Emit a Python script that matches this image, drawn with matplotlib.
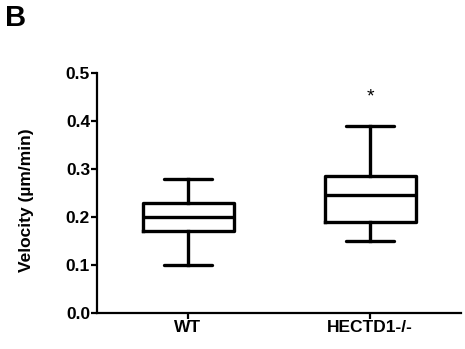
import matplotlib
matplotlib.use("Agg")
import matplotlib.pyplot as plt

plt.rcParams['font.family'] = ['Liberation Sans', 'DejaVu Sans']

categories = ["WT", "HECTD1-/-"]
whislo = [0.10, 0.15]
q1 = [0.17, 0.19]
med = [0.20, 0.245]
q3 = [0.23, 0.285]
whishi = [0.28, 0.39]
yticks = [0.0, 0.1, 0.2, 0.3, 0.4, 0.5]

fig = plt.figure(figsize=(4.65, 3.49), dpi=100)
ax = fig.add_axes([97/465, 1-313/349, 364/465, 240/349])

stats = []
for i, c in enumerate(categories):
    stats.append(dict(label=c, whislo=whislo[i], q1=q1[i], med=med[i], q3=q3[i], whishi=whishi[i], fliers=[]))

lw = 2.4
ax.bxp(stats, positions=[0, 1], widths=0.5, capwidths=0.26, showfliers=False,
       boxprops=dict(color='black', linewidth=lw),
       medianprops=dict(color='black', linewidth=lw),
       whiskerprops=dict(color='black', linewidth=lw),
       capprops=dict(color='black', linewidth=lw, solid_capstyle='round'))

ax.text(1, 0.45, "*", ha='center', va='center', fontsize=14)

ax.set_xlim(-0.5, 1.5)
ax.set_ylim(0, 0.5)
ax.set_yticks(yticks)
ax.set_yticklabels([f"{v:.1f}" for v in yticks], fontweight='bold', fontsize=12.5)
ax.set_xticks([0, 1])
ax.set_xticklabels(categories, fontweight='bold', fontsize=12.5)
for s in ['top', 'right']:
    ax.spines[s].set_visible(False)
for s in ['left', 'bottom']:
    ax.spines[s].set_linewidth(1.6)
ax.tick_params(width=1.6, length=4, pad=1)

fig.text(27/465, 1-200/349, "Velocity (\u00b5m/min)", rotation=90, ha='center', va='center',
         fontsize=12.5, fontweight='bold')
fig.text(5/465, 1-18/349, "B", ha='left', va='center', fontsize=21, fontweight='bold')

fig.savefig("out.png", dpi=100)
